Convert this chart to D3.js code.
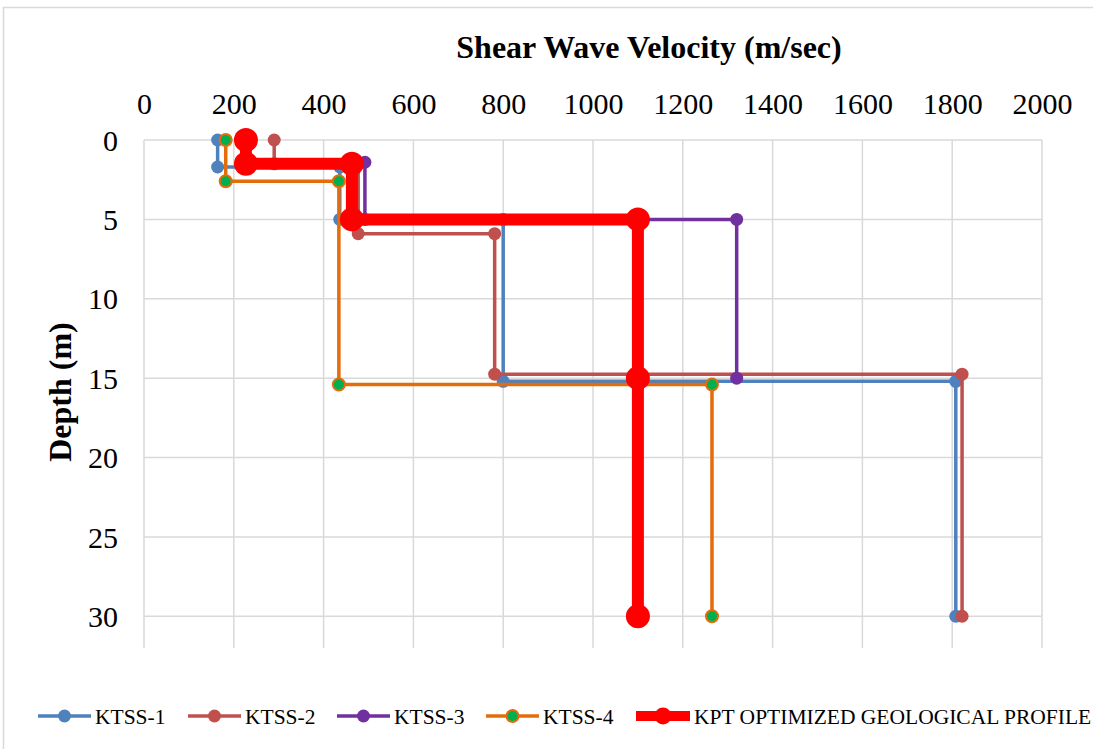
<!DOCTYPE html>
<html>
<head>
<meta charset="utf-8">
<script src="https://cdn.jsdelivr.net/npm/d3@7"></script>
<style>
  body { margin: 0; background: #fff; }
</style>
</head>
<body>
<div id="chart"></div>
<script>
// Shear wave velocity (m/sec) vs depth (m)
var velocityTicks = [0, 200, 400, 600, 800, 1000, 1200, 1400, 1600, 1800, 2000];
var depthTicks = [0, 5, 10, 15, 20, 25, 30];

var seriesNames = ['KTSS-1', 'KTSS-2', 'KTSS-3', 'KTSS-4', 'KPT OPTIMIZED GEOLOGICAL PROFILE'];

var ktss1 = [[164, 0], [164, 1.7], [436, 1.7], [436, 5], [800, 5], [800, 15.2], [1808, 15.2], [1808, 30]];
var ktss2 = [[290, 0], [290, 1.5], [477, 1.5], [477, 5.9], [781, 5.9], [781, 14.75], [1822, 14.75], [1822, 30]];
var ktss3 = [[227, 0], [227, 1.4], [492, 1.4], [492, 5], [1320, 5], [1320, 15]];
var ktss4 = [[182, 0], [182, 2.6], [434, 2.6], [434, 15.4], [1265, 15.4], [1265, 30]];
var kpt = [[227, 0], [227, 1.5], [463, 1.5], [463, 5], [1100, 5], [1100, 15], [1100, 30]];

var seriesValues = [ktss1, ktss2, ktss3, ktss4, kpt];

var FONT = '"Liberation Serif", "Times New Roman", Times, serif';

// styles per series
var styles = [
    { line: '#4F81BD', fill: '#4F81BD', stroke: 'none', lw: 3.5, r: 6.5 },
    { line: '#C0504D', fill: '#C0504D', stroke: 'none', lw: 3.5, r: 6.5 },
    { line: '#7030A0', fill: '#7030A0', stroke: 'none', lw: 3.5, r: 6.5 },
    { line: '#E46C0A', fill: '#00B050', stroke: '#E46C0A', lw: 3.5, r: 6 },
    { line: '#FF0000', fill: '#FF0000', stroke: 'none', lw: 12, r: 12 }
];

var W = 1093, H = 749;
var svg = d3.select('#chart').append('svg')
    .attr('width', W)
    .attr('height', H);

// outer chart border
svg.append('rect')
    .attr('x', 3.5).attr('y', 7.5)
    .attr('width', W + 10).attr('height', H + 10)
    .attr('fill', 'none')
    .attr('stroke', '#D9D9D9')
    .attr('stroke-width', 1.5);

var x = d3.scaleLinear().domain([0, 2000]).range([144, 1042]);
var y = d3.scaleLinear().domain([0, 32]).range([140, 648]);

// gridlines
svg.append('g').selectAll('line')
    .data(velocityTicks)
    .enter().append('line')
    .attr('x1', function(d) { return x(d); })
    .attr('x2', function(d) { return x(d); })
    .attr('y1', y(0)).attr('y2', y(32))
    .attr('stroke', '#D9D9D9').attr('stroke-width', 1.5);

svg.append('g').selectAll('line')
    .data(depthTicks)
    .enter().append('line')
    .attr('x1', x(0)).attr('x2', x(2000))
    .attr('y1', function(d) { return y(d); })
    .attr('y2', function(d) { return y(d); })
    .attr('stroke', '#D9D9D9').attr('stroke-width', 1.5);

// axes (labels only)
var xAxis = svg.append('g')
    .attr('transform', 'translate(0,' + (y(0) - 26) + ')')
    .call(d3.axisTop(x).tickValues(velocityTicks).tickFormat(d3.format('d')).tickSize(0).tickPadding(0));
xAxis.select('.domain').remove();
xAxis.selectAll('text')
    .style('font-family', FONT)
    .style('font-size', '30px')
    .attr('dy', 0)
    .attr('fill', '#000');

var yAxis = svg.append('g')
    .attr('transform', 'translate(' + (x(0) - 26) + ',0)')
    .call(d3.axisLeft(y).tickValues(depthTicks).tickSize(0).tickPadding(0));
yAxis.select('.domain').remove();
yAxis.selectAll('text')
    .style('font-family', FONT)
    .style('font-size', '30px')
    .attr('dy', '0.34em')
    .attr('fill', '#000');

// titles
svg.append('text')
    .attr('x', 649).attr('y', 58)
    .attr('text-anchor', 'middle')
    .style('font-family', FONT)
    .style('font-weight', 'bold')
    .style('font-size', '32px')
    .text('Shear Wave Velocity (m/sec)');

svg.append('text')
    .attr('transform', 'translate(71,392) rotate(-90)')
    .attr('text-anchor', 'middle')
    .style('font-family', FONT)
    .style('font-weight', 'bold')
    .style('font-size', '32px')
    .text('Depth (m)');

// series
var line = d3.line()
    .x(function(d) { return x(d[0]); })
    .y(function(d) { return y(d[1]); });

seriesValues.forEach(function(values, i) {
    var s = styles[i];
    var g = svg.append('g').attr('class', 'series');
    g.append('path')
        .datum(values)
        .attr('d', line)
        .attr('fill', 'none')
        .attr('stroke', s.line)
        .attr('stroke-width', s.lw)
        .attr('stroke-linejoin', 'round');
    g.selectAll('circle')
        .data(values)
        .enter().append('circle')
        .attr('cx', function(d) { return x(d[0]); })
        .attr('cy', function(d) { return y(d[1]); })
        .attr('r', s.r)
        .attr('fill', s.fill)
        .attr('stroke', s.stroke)
        .attr('stroke-width', 2);
});

// legend
var legendX = [38, 188, 337, 486, 636];
var legendY = 716;
var legend = svg.append('g');
seriesNames.forEach(function(name, i) {
    var s = styles[i];
    var x0 = legendX[i];
    var len = i === 4 ? 54 : 53;
    legend.append('line')
        .attr('x1', x0).attr('x2', x0 + len)
        .attr('y1', legendY).attr('y2', legendY)
        .attr('stroke', s.line)
        .attr('stroke-width', i === 4 ? 10 : s.lw);
    legend.append('circle')
        .attr('cx', x0 + len / 2).attr('cy', legendY)
        .attr('r', i === 4 ? 8.5 : s.r)
        .attr('fill', s.fill)
        .attr('stroke', s.stroke)
        .attr('stroke-width', 2);
    legend.append('text')
        .attr('x', x0 + len + 4)
        .attr('y', legendY)
        .attr('dy', '0.35em')
        .style('font-family', FONT)
        .style('font-size', '21.5px')
        .text(name);
});
</script>
</body>
</html>
